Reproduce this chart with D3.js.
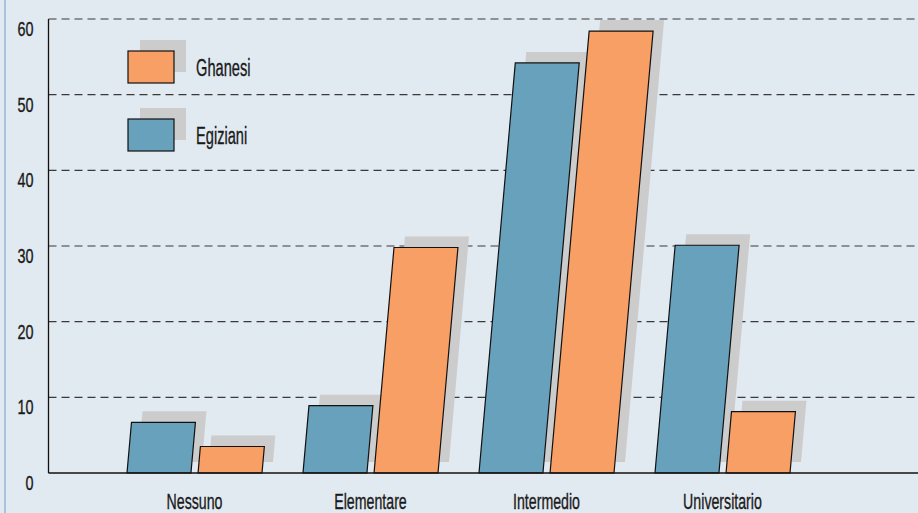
<!DOCTYPE html>
<html><head><meta charset="utf-8">
<script src="https://cdn.jsdelivr.net/npm/d3@7"></script>
<style>
html,body{margin:0;padding:0;background:#e1e9f1;}
svg{display:block;}
text{font-family:"Liberation Sans",Arial,sans-serif;fill:#1a1a1a;stroke:#1a1a1a;stroke-width:0.35px;}
</style></head>
<body>
<script>
const categories = ["Nessuno","Elementare","Intermedio","Universitario"];
const seriesNames = ["Egiziani","Ghanesi"];
const egiziani = [6.7, 8.9, 54.2, 30.1];
const ghanesi = [3.5, 29.8, 58.4, 8.1];
const yTicks = [0,10,20,30,40,50,60];
const legendOrder = ["Ghanesi","Egiziani"];

const W = 918, H = 513;
const colors = {Egiziani:"#67a1bc", Ghanesi:"#f89f65"};
const svg = d3.select("body").append("svg").attr("width",W).attr("height",H);

svg.append("rect").attr("width",W).attr("height",H).attr("fill","#e1e9f1");
svg.append("rect").attr("x",4).attr("y",0).attr("width",2).attr("height",H).attr("fill","#a9c3df");

const axisX = 48.5;
const y = d3.scaleLinear().domain([0,60]).range([473,19]);
const x = d3.scaleBand().domain(categories).range([106.5,810.5]);
const xs = d3.scaleBand().domain(seriesNames).range([-67.5,67.5]).paddingInner(0.1);
const slant = 0.0885;
const shOff = 11;

// gridlines
svg.append("g").selectAll("line").data(yTicks.filter(d=>d>0)).join("line")
  .attr("x1",axisX).attr("x2",W).attr("y1",d=>y(d)).attr("y2",d=>y(d))
  .attr("stroke","#3a3a3a").attr("stroke-width",1.2).attr("stroke-dasharray","8,5");

// tick labels
svg.append("g").selectAll("g").data(yTicks).join("g")
  .attr("transform",d=>`translate(33.5,${y(d)+17}) scale(0.72,1)`)
  .append("text").attr("text-anchor","end").attr("font-size",20).text(d=>d);

const rows = [];
categories.forEach((c,i)=>{
  rows.push({cat:c, s:"Egiziani", v:egiziani[i]});
  rows.push({cat:c, s:"Ghanesi", v:ghanesi[i]});
});
function barPath(d, dx, dy){
  const x0 = x(d.cat) + x.bandwidth()/2 + xs(d.s) + dx;
  const w = xs.bandwidth();
  const yb = y(0) + dy, yt = y(d.v) + dy;
  const off = slant*(y(0)-y(d.v));
  return `M${x0},${yb}L${x0+w},${yb}L${x0+w+off},${yt}L${x0+off},${yt}Z`;
}
// shadows
svg.append("g").selectAll("path").data(rows).join("path")
  .attr("d",d=>barPath(d,shOff,-shOff)).attr("fill","#cccccc");
// bars
svg.append("g").selectAll("path").data(rows).join("path")
  .attr("d",d=>barPath(d,0,0)).attr("fill",d=>colors[d.s])
  .attr("stroke","#111").attr("stroke-width",1.2).attr("stroke-linejoin","miter");

// axes lines
svg.append("line").attr("x1",axisX).attr("x2",axisX).attr("y1",y(60)).attr("y2",y(0)).attr("stroke","#111").attr("stroke-width",1.3);
svg.append("line").attr("x1",axisX).attr("x2",W).attr("y1",y(0)).attr("y2",y(0)).attr("stroke","#111").attr("stroke-width",1.3);

// category labels
svg.append("g").selectAll("g").data(categories).join("g")
  .attr("transform",d=>`translate(${x(d)+x.bandwidth()/2},508.5) scale(0.63,1)`)
  .append("text").attr("text-anchor","middle").attr("font-size",22.5).text(d=>d);

// legend
const lg = svg.append("g").selectAll("g").data(legendOrder).join("g")
  .attr("transform",(d,i)=>`translate(128,${51+i*68})`);
lg.append("rect").attr("x",12).attr("y",-11).attr("width",46).attr("height",32).attr("fill","#cccccc");
lg.append("rect").attr("x",0).attr("y",0).attr("width",46).attr("height",32)
  .attr("fill",d=>colors[d]).attr("stroke","#111").attr("stroke-width",1.2);
lg.append("g").attr("transform","translate(68,25) scale(0.61,1)")
  .append("text").attr("font-size",24).text(d=>d);
</script>
</body></html>
